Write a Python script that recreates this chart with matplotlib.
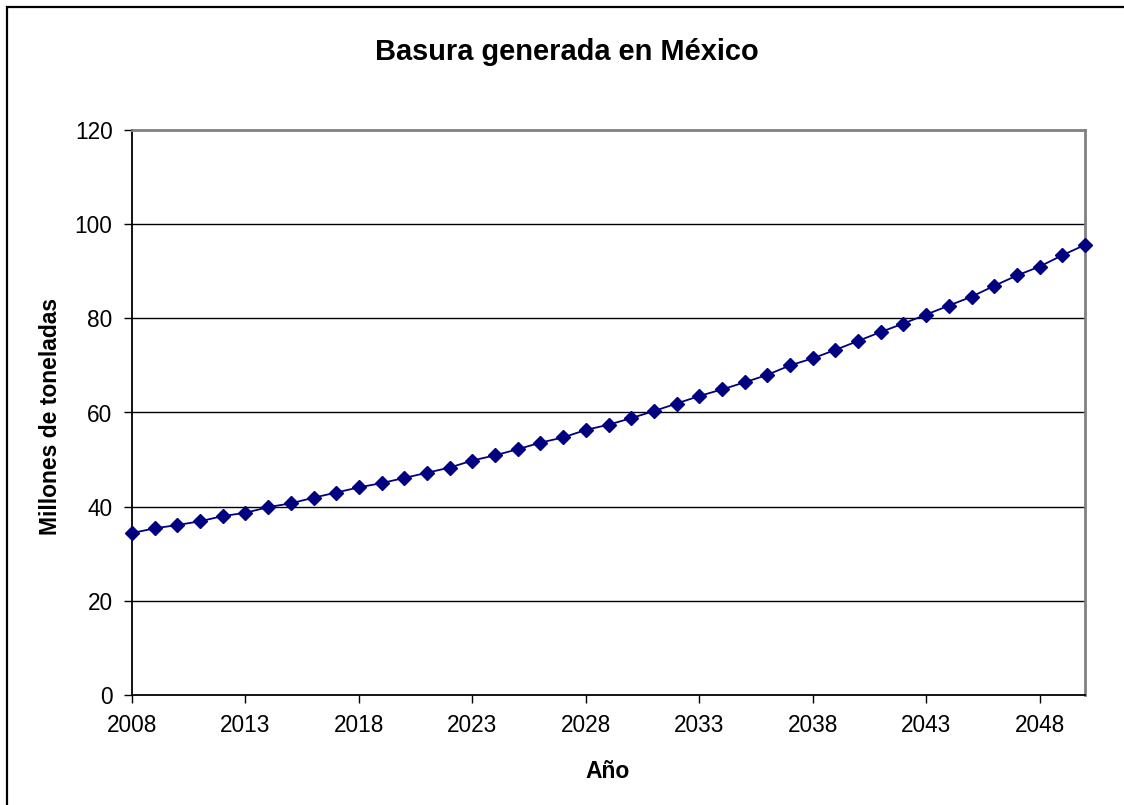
import matplotlib
matplotlib.use("Agg")
import matplotlib.pyplot as plt
from matplotlib.patches import Rectangle

# Generated waste in Mexico, millions of tonnes per year
years = list(range(2008, 2051))
waste = [34.4, 35.4, 36.1, 36.9, 38.0, 38.7, 39.9, 40.7, 41.9, 43.0,
         44.1, 45.0, 46.1, 47.2, 48.3, 49.8, 50.9, 52.2, 53.6, 54.7,
         56.3, 57.4, 58.8, 60.3, 61.9, 63.5, 64.9, 66.4, 68.0, 70.0,
         71.5, 73.3, 75.2, 77.1, 78.9, 80.8, 82.7, 84.6, 86.9, 89.1,
         91.0, 93.4, 95.6]
y_ticks = [0, 20, 40, 60, 80, 100, 120]
x_tick_years = list(range(2008, 2051, 5))

plt.rcParams['font.family'] = ['Liberation Sans', 'DejaVu Sans']

W, H = 1124, 805
fig = plt.figure(figsize=(W / 100, H / 100), dpi=100)
fig.patch.set_facecolor('white')

# outer chart frame (left and top edges visible)
fig.patches.append(Rectangle((7 / W, -0.05), 1.2, (H - 7) / H + 0.05,
                             transform=fig.transFigure, fill=False,
                             edgecolor='black', linewidth=1.6))

ax = fig.add_axes([132 / W, (H - 695) / H, (1085 - 132) / W, (695 - 130) / H])
ax.set_xlim(years[0], years[-1])
ax.set_ylim(0, 120)

for v in y_ticks[1:-1]:
    ax.axhline(v, color='black', linewidth=1.0, zorder=1)

ax.plot(years, waste, color='#000080', linewidth=1.3, marker='D',
        markersize=7, markerfacecolor='#000080', markeredgecolor='#000080',
        zorder=3, clip_on=False)

ax.set_yticks(y_ticks)
ax.set_xticks(x_tick_years)
ax.set_xticklabels([str(y) for y in x_tick_years])
ax.tick_params(axis='both', direction='out', length=6, width=1.0,
               labelsize=16.3, colors='black')
ax.tick_params(axis='y', pad=8)
ax.tick_params(axis='x', pad=8)

for side in ('left', 'bottom'):
    ax.spines[side].set_color('black')
    ax.spines[side].set_linewidth(1.3)
for side in ('top', 'right'):
    ax.spines[side].set_color('#808080')
    ax.spines[side].set_linewidth(2.0)

fig.text(567 / W, 1 - 52 / H, 'Basura generada en México', ha='center',
         va='center', fontsize=20.9, fontweight='bold')
fig.text(51 / W, 1 - 416 / H, 'Millones de toneladas', ha='center',
         va='center', rotation=90, fontsize=16.5, fontweight='bold')
fig.text(608 / W, 1 - 771 / H, 'Año', ha='center', va='center',
         fontsize=16.5, fontweight='bold')

fig.savefig('out.png', dpi=100)
